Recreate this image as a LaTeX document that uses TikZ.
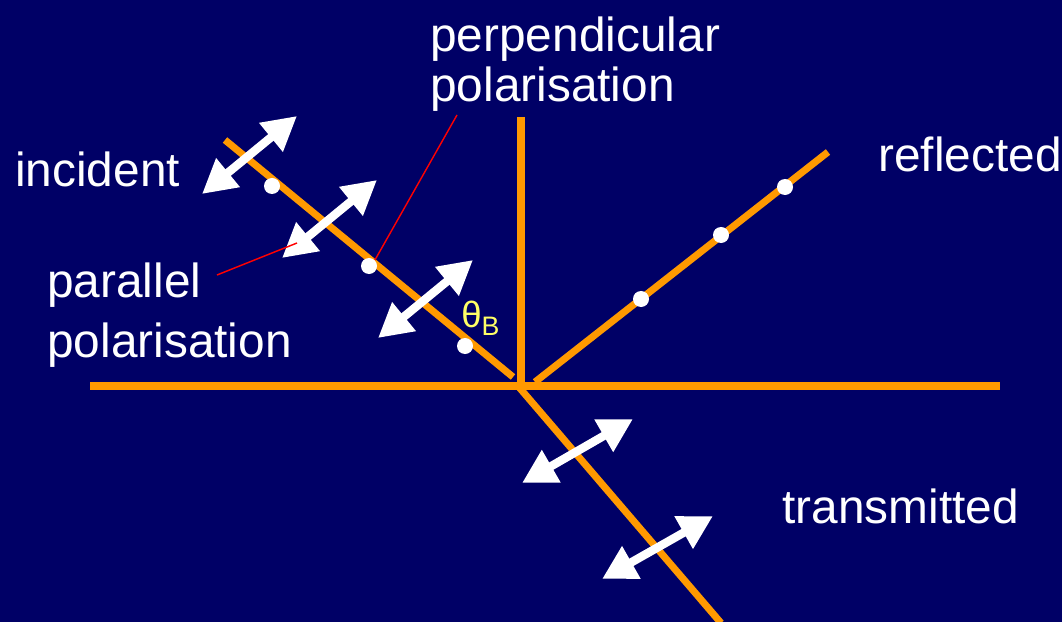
\documentclass[tikz,border=0pt]{standalone}
\usepackage{fontspec}
\setmainfont{Liberation Sans}
\usetikzlibrary{arrows.meta}
\definecolor{fundo}{RGB}{0,0,102}
\definecolor{laranja}{RGB}{255,153,0}
\definecolor{amarelo}{RGB}{255,255,102}

\begin{document}
\begin{tikzpicture}[
    x=0.025cm, y=-0.025cm,
    beam/.style={draw=laranja, line width=5pt},
    spot/.style={circle, fill=white, minimum size=0.4cm, inner sep=0pt},
    oscillation/.style={
        {Triangle[length=24pt,width=25pt]}-{Triangle[length=24pt,width=25pt]},
        white,
        line width=6pt
    },
    pointer/.style={red, line width=1pt},
    caption/.style={
        text=white,
        anchor=base west,
        inner sep=0pt,
        align=left,
        font=\fontsize{34}{42}\selectfont
    }
]

\fill[fundo] (0,0) rectangle (1062,622);
\useasboundingbox (0,0) rectangle (1062,622);

% interface, normal and the three beams
\coordinate (surfL) at (90,386);
\coordinate (surfR) at (1000,386);
\coordinate (normT) at (521,117);
\coordinate (normB) at (521,389);
\coordinate (incA) at (225,140);
\coordinate (incB) at (513,377);
\coordinate (refA) at (535,382);
\coordinate (refB) at (828,152);
\coordinate (traA) at (518,386);
\coordinate (traB) at (721,623);

\draw[beam] (surfL) -- (surfR);
\draw[beam] (normT) -- (normB);
\draw[beam] (incA) -- (incB);
\draw[beam] (refA) -- (refB);
\draw[beam] (traA) -- (traB);

% perpendicular polarisation (dots)
\node[spot] (inc1) at (272,186) {};
\node[spot] (inc2) at (369,266) {};
\node[spot] (inc3) at (465,346) {};
\node[spot] (ref1) at (641,299) {};
\node[spot] (ref2) at (721,235) {};
\node[spot] (ref3) at (785,187) {};

% parallel polarisation (double arrows)
\coordinate (osc1a) at (202,194);
\coordinate (osc1b) at (297,116);
\coordinate (osc2a) at (282,258);
\coordinate (osc2b) at (377,180);
\coordinate (osc3a) at (378,338);
\coordinate (osc3b) at (473,260);
\coordinate (osc4a) at (522,483);
\coordinate (osc4b) at (633,419);
\coordinate (osc5a) at (602,579);
\coordinate (osc5b) at (713,516);

\draw[oscillation] (osc1a) -- (osc1b);
\draw[oscillation] (osc2a) -- (osc2b);
\draw[oscillation] (osc3a) -- (osc3b);
\draw[oscillation] (osc4a) -- (osc4b);
\draw[oscillation] (osc5a) -- (osc5b);

% labels (base = last line)
\node[caption] (incident) at (15,187) {incident};
\node[caption] (reflected) at (878,172) {reflected};
\node[caption] (transmitted) at (782,523) {transmitted};
\node[caption, font=\fontsize{34}{36}\selectfont] (perp) at (430,102) {perpendicular\\polarisation};
\node[caption] (par) at (47,357) {parallel\\polarisation};
\node[anchor=base west, inner sep=0pt, text=amarelo] (brewster) at (461,327)
    {\fontsize{26}{30}\selectfont θ\raisebox{-6pt}{\fontsize{19}{22}\selectfont B}};

\coordinate (perpTail) at (457,115);
\coordinate (parTail) at (217,275);
\draw[pointer] (perpTail) -- (inc2.north east);
\draw[pointer] (parTail) -- (297,243);

\end{tikzpicture}
\end{document}
